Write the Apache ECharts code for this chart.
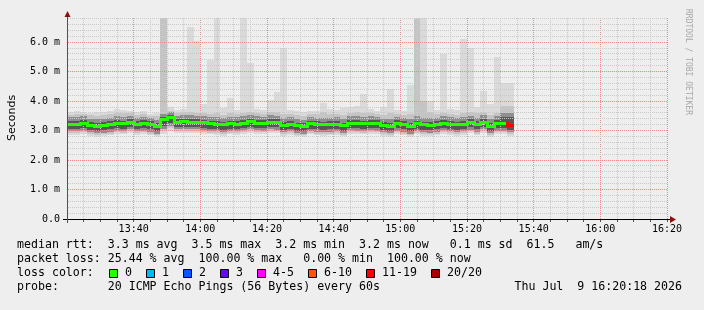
<!DOCTYPE html>
<html>
<head>
<meta charset="utf-8">
<title>smokeping</title>
<script src="https://cdn.jsdelivr.net/npm/echarts@6/dist/echarts.min.js"></script>
<style>
html, body { margin: 0; padding: 0; background: #eeeeee; }
#chart { width: 704px; height: 310px; }
</style>
</head>
<body>
<div id="chart"></div>
<script>
// x axis in minutes since midnight, one smoke column every 2 minutes
var startMinute = 800;   // 13:20
var endMinute = 980;     // 16:20
var stepMinute = 2;
var yMax = 6.82;

// values in ms, one per column
var median = [3.24,3.24,3.26,3.20,3.17,3.19,3.22,3.26,3.25,3.30,
              3.23,3.26,3.22,3.16,3.38,3.46,3.30,3.31,3.30,3.30,
              3.28,3.25,3.24,3.21,3.25,3.24,3.27,3.31,3.27,3.26,
              3.30,3.29,3.20,3.24,3.18,3.16,3.25,3.22,3.21,3.22,
              3.24,3.18,3.27,3.26,3.25,3.27,3.26,3.20,3.17,3.26,
              3.22,3.16,3.25,3.21,3.19,3.22,3.27,3.23,3.21,3.24,
              3.29,3.22,3.30,3.17,3.26,3.26,3.20];
var pingMax = [3.62,3.66,3.64,3.60,3.63,3.62,3.68,3.73,3.70,3.66,
               3.63,3.66,3.55,3.58,6.90,3.80,3.70,3.72,6.50,6.05,
               3.90,5.40,6.90,3.75,4.10,3.70,6.90,5.30,3.72,3.70,
               4.05,4.30,5.80,3.70,3.66,3.62,3.66,3.68,3.93,3.72,
               3.70,3.75,3.80,3.83,4.25,3.72,3.68,3.80,4.40,3.70,
               3.68,4.55,6.90,6.90,4.00,3.70,5.60,3.72,3.70,6.10,
               5.80,3.80,4.35,3.90,5.50,4.60,4.60];
var pingHi2 = [3.54,3.57,3.56,3.52,3.50,3.53,3.56,3.60,3.58,3.58,
               3.54,3.57,3.50,3.48,6.90,3.68,3.60,3.62,3.62,3.60,
               3.58,3.56,3.58,3.54,3.60,3.56,3.60,3.62,3.58,3.57,
               3.62,3.64,3.56,3.56,3.52,3.50,3.56,3.55,3.62,3.55,
               3.56,3.54,3.60,3.62,3.60,3.58,3.56,3.54,3.60,3.57,
               3.54,3.56,6.80,4.00,3.64,3.56,3.60,3.56,3.54,3.58,
               3.62,3.58,3.62,3.52,3.60,3.85,3.85];
var pingHi1 = [3.45,3.46,3.48,3.41,3.38,3.40,3.44,3.48,3.46,3.51,
               3.44,3.47,3.43,3.37,3.56,3.62,3.51,3.53,3.52,3.51,
               3.49,3.46,3.46,3.42,3.47,3.45,3.49,3.53,3.48,3.47,
               3.52,3.51,3.42,3.45,3.39,3.37,3.46,3.44,3.43,3.43,
               3.45,3.39,3.49,3.48,3.47,3.49,3.47,3.41,3.39,3.47,
               3.44,3.38,3.49,3.44,3.42,3.44,3.49,3.45,3.42,3.46,
               3.51,3.44,3.52,3.39,3.48,3.60,3.60];
var coreHi = [3.33,3.33,3.35,3.29,3.26,3.28,3.31,3.35,3.34,3.39,
              3.32,3.35,3.31,3.25,3.47,3.54,3.39,3.40,3.39,3.39,
              3.37,3.34,3.33,3.30,3.34,3.33,3.36,3.40,3.36,3.35,
              3.39,3.38,3.29,3.33,3.27,3.25,3.34,3.31,3.30,3.31,
              3.33,3.27,3.36,3.35,3.34,3.36,3.35,3.29,3.26,3.35,
              3.31,3.25,3.34,3.30,3.28,3.31,3.36,3.32,3.30,3.33,
              3.38,3.31,3.39,3.26,3.35,3.45,3.45];
var coreLo = [3.06,3.06,3.08,3.02,2.99,3.01,3.04,3.08,3.07,3.12,
              3.05,3.08,3.04,2.98,3.16,3.26,3.12,3.13,3.12,3.12,
              3.10,3.07,3.06,3.03,3.07,3.06,3.09,3.13,3.09,3.08,
              3.12,3.11,3.02,3.06,3.00,2.98,3.07,3.04,3.03,3.04,
              3.06,3.00,3.09,3.08,3.07,3.09,3.08,3.02,2.99,3.08,
              3.04,2.98,3.07,3.03,3.01,3.04,3.09,3.05,3.03,3.06,
              3.11,3.04,3.12,2.99,3.08,3.08,3.02];
var pingLo1 = [2.98,2.98,3.00,2.94,2.91,2.93,2.96,3.00,2.99,3.04,
               2.97,3.00,2.96,2.90,3.05,3.17,3.04,3.05,3.04,3.04,
               3.02,2.99,2.98,2.95,2.99,2.98,3.01,3.05,3.01,3.00,
               3.04,3.03,2.94,2.98,2.92,2.90,2.99,2.96,2.95,2.96,
               2.98,2.92,3.01,3.00,2.99,3.01,3.00,2.94,2.91,3.00,
               2.96,2.90,2.99,2.95,2.93,2.96,3.01,2.97,2.95,2.98,
               3.03,2.96,3.04,2.91,3.00,3.00,2.94];
var pingLo2 = [2.92,2.92,2.94,2.88,2.85,2.87,2.90,2.94,2.93,2.98,
               2.91,2.94,2.90,2.84,2.97,3.09,2.98,2.99,2.98,2.98,
               2.96,2.93,2.92,2.89,2.93,2.92,2.95,2.99,2.95,2.94,
               2.98,2.97,2.88,2.92,2.86,2.84,2.93,2.90,2.89,2.90,
               2.92,2.86,2.95,2.94,2.93,2.95,2.94,2.88,2.85,2.94,
               2.90,2.84,2.93,2.89,2.87,2.90,2.95,2.91,2.89,2.92,
               2.97,2.90,2.98,2.85,2.94,2.94,2.88];
var pingMin = [2.86,2.86,2.88,2.82,2.79,2.81,2.84,2.88,2.87,2.92,
               2.85,2.88,2.84,2.78,2.88,3.00,2.92,2.93,2.92,2.92,
               2.90,2.87,2.86,2.83,2.87,2.86,2.89,2.93,2.89,2.88,
               2.92,2.91,2.82,2.86,2.80,2.78,2.87,2.84,2.83,2.84,
               2.86,2.80,2.89,2.88,2.87,2.89,2.88,2.82,2.79,2.88,
               2.84,2.78,2.87,2.83,2.81,2.84,2.89,2.85,2.83,2.86,
               2.91,2.84,2.92,2.79,2.88,2.88,2.82];
// lost pings (of 20) per column
var lossCount = [0,0,0,0,0,0,0,0,0,0, 0,0,0,0,0,0,0,0,0,0,
                 0,0,0,0,0,0,0,0,0,0, 0,0,0,0,0,0,0,0,0,0,
                 0,0,0,0,0,0,0,0,0,0, 0,0,0,0,0,0,0,0,0,0,
                 0,0,0,0,0,0,12];

var lossLabels = ['0', '1', '2', '3', '4-5', '6-10', '11-19', '20/20'];
var lossLimits = [0, 1, 2, 3, 5, 10, 19, 20];
var lossColors = ['#26ff00', '#00b8ff', '#0059ff', '#6a00ff', '#ff00ff', '#ff5500', '#ff0000', '#a10000'];

var rttNames = ['avg', 'max', 'min', 'now'];
var rttValues = [3.3, 3.5, 3.2, 3.2];
var rttSd = 0.1;
var rttAmS = 61.5;
var lossNames = ['avg', 'max', 'min', 'now'];
var lossValues = [25.44, 100.00, 0.00, 100.00];
var probeText = '20 ICMP Echo Pings (56 Bytes) every 60s';
var dateText = 'Thu Jul  9 16:20:18 2026';

var MONO = '"DejaVu Sans Mono", monospace';
var MAJOR_GRID = '#ec8c8c';
var MINOR_GRID = '#c9c9c9';

function lossColor(n) {
    for (var k = 0; k < lossLimits.length; k++) {
        if (n <= lossLimits[k]) return lossColors[k];
    }
    return lossColors[lossColors.length - 1];
}

function minuteLabel(v) {
    var h = Math.floor(v / 60), m = v % 60;
    return h + ':' + (m < 10 ? '0' + m : m);
}

var smokeData = [], medianData = [];
for (var i = 0; i < median.length; i++) {
    var t = startMinute + i * stepMinute;
    smokeData.push([t, pingMin[i], pingLo2[i], pingLo1[i], coreLo[i], coreHi[i], pingHi1[i], pingHi2[i], pingMax[i]]);
    medianData.push([t, median[i], i > 0 ? median[i - 1] : median[i], lossCount[i]]);
}

// grid lines (rrdtool draws them over the smoke): [x, y, vertical, major]
var gridData = [];
for (var m = startMinute + 5; m <= endMinute; m += 5) {
    gridData.push([m, 0, 1, (m - startMinute) % 20 === 0 ? 1 : 0]);
}
for (var k = 1; k <= 34; k++) {
    gridData.push([startMinute, k / 5, 0, k % 5 === 0 ? 1 : 0]);
}

// smoke: 4 shades, outer pings lightest
var smokeLayers = [[1, 8, '#dadada'], [2, 7, '#c4c4c4'], [3, 6, '#8e8e8e'], [4, 5, '#575757']];
function smokeItem(params, api) {
    var x0 = api.value(0);
    var children = smokeLayers.map(function(l) {
        var a = api.coord([x0, api.value(l[1])]);
        var b = api.coord([x0 + stepMinute, api.value(l[0])]);
        var left = Math.round(a[0]), right = Math.round(b[0]);
        var top = Math.round(a[1]), bottom = Math.round(b[1]);
        return { type: 'rect', shape: { x: left, y: top, width: right - left, height: bottom - top }, style: { fill: l[2] } };
    });
    return { type: 'group', children: children };
}

function gridItem(params, api) {
    var vertical = api.value(2) === 1;
    var color = api.value(3) === 1 ? MAJOR_GRID : MINOR_GRID;
    var shape;
    if (vertical) {
        var p0 = api.coord([api.value(0), 0]);
        var p1 = api.coord([api.value(0), yMax]);
        var x = Math.floor(p0[0]) + 0.5;
        shape = { x1: x, y1: Math.round(p1[1]), x2: x, y2: Math.round(p0[1]) };
    } else {
        var q0 = api.coord([startMinute, api.value(1)]);
        var q1 = api.coord([endMinute, api.value(1)]);
        var y = Math.floor(q0[1]) + 0.5;
        shape = { x1: Math.round(q0[0]) + 1, y1: y, x2: Math.round(q1[0]) + 1, y2: y };
    }
    return { type: 'line', shape: shape, style: { stroke: color, lineWidth: 1, lineDash: [1, 1] } };
}

function medianItem(params, api) {
    var x0 = api.value(0);
    var a = api.coord([x0, api.value(1)]);
    var b = api.coord([x0 + stepMinute, api.value(1)]);
    var c = api.coord([x0, api.value(2)]);
    var color = lossColor(api.value(3));
    var left = Math.round(a[0]), right = Math.round(b[0]);
    var y = Math.round(a[1]), py = Math.round(c[1]);
    var children = [{ type: 'rect', shape: { x: left, y: y - 1, width: right - left, height: 3 }, style: { fill: color } }];
    if (params.dataIndex > 0 && py !== y) {
        children.push({ type: 'rect', shape: { x: left - 1, y: Math.min(py, y) - 1, width: 3, height: Math.abs(py - y) + 3 }, style: { fill: color } });
    }
    return { type: 'group', children: children };
}

// legend lines
var row1 = 'median rtt:  ' + rttValues.map(function(v, k) { return v.toFixed(1) + ' ms ' + rttNames[k]; }).join('  ')
    + '  ' + rttSd.toFixed(1).padStart(4) + ' ms sd  ' + rttAmS.toFixed(1) + '   am/s';
var row2 = 'packet loss: ' + lossValues.map(function(v, k) { return v.toFixed(2).padStart(5) + ' % ' + lossNames[k]; }).join('  ');
var row4 = 'probe:       ' + probeText;

var textFont = '11.6px ' + MONO;
var graphics = [
    { type: 'text', x: 17, y: 245, style: { text: row1, font: textFont, fill: '#000', verticalAlign: 'middle' } },
    { type: 'text', x: 17, y: 259, style: { text: row2, font: textFont, fill: '#000', verticalAlign: 'middle' } },
    { type: 'text', x: 17, y: 273, style: { text: 'loss color:', font: textFont, fill: '#000', verticalAlign: 'middle' } },
    { type: 'text', x: 17, y: 287, style: { text: row4, font: textFont, fill: '#000', verticalAlign: 'middle' } },
    { type: 'text', x: 682, y: 287, style: { text: dateText, font: textFont, fill: '#000', align: 'right', verticalAlign: 'middle' } },
    // y title and watermark
    { type: 'text', x: 12, y: 118, rotation: Math.PI / 2, style: { text: 'Seconds', font: '11px "DejaVu Sans"', fill: '#000', align: 'center', verticalAlign: 'middle' } },
    { type: 'text', x: 688, y: 9, rotation: -Math.PI / 2, style: { text: 'RRDTOOL / TOBI OETIKER', font: '8px ' + MONO, fill: '#a8a8a8', align: 'left', verticalAlign: 'middle' } },
    // axis lines with rrdtool overhang and arrows
    { type: 'line', z: 50, shape: { x1: 63, y1: 219.5, x2: 671, y2: 219.5 }, style: { stroke: '#000', lineWidth: 1 } },
    { type: 'line', z: 50, shape: { x1: 67.5, y1: 223, x2: 67.5, y2: 15 }, style: { stroke: '#505050', lineWidth: 1 } },
    { type: 'polygon', z: 51, shape: { points: [[670, 216], [676, 219.5], [670, 223]] }, style: { fill: '#8b1010' } },
    { type: 'polygon', z: 51, shape: { points: [[64.5, 17], [67.5, 11], [70.5, 17]] }, style: { fill: '#8b1010' } }
];
var bx = 109;
lossLabels.forEach(function(lab, k) {
    graphics.push({ type: 'rect', shape: { x: bx + 0.5, y: 269.5, width: 8, height: 8 }, style: { fill: lossColors[k], stroke: '#000', lineWidth: 1 } });
    graphics.push({ type: 'text', x: bx + 16, y: 273, style: { text: lab, font: textFont, fill: '#000', verticalAlign: 'middle' } });
    bx = bx + 16 + lab.length * 7 + 14;
});

var myChart = echarts.init(document.getElementById('chart'));
var option = {
    backgroundColor: '#eeeeee',
    animation: false,
    grid: { left: 67, right: 37, top: 18, bottom: 91, containLabel: false, outerBoundsMode: 'none' },
    xAxis: {
        type: 'value', min: startMinute, max: endMinute, interval: 20,
        axisLine: { show: false },
        axisTick: { show: true, interval: 0, length: 3, lineStyle: { color: '#505050' } },
        minorTick: { show: true, splitNumber: 4, length: 3, lineStyle: { color: '#505050' } },
        axisLabel: { showMinLabel: false, interval: 0, margin: 5, color: '#000', fontFamily: MONO, fontSize: 10, formatter: minuteLabel },
        splitLine: { show: false }
    },
    yAxis: {
        type: 'value', min: 0, max: yMax, interval: 1,
        axisLine: { show: false }, axisTick: { show: false },
        axisLabel: {
            margin: 7, interval: 0, color: '#000', fontFamily: MONO, fontSize: 10, showMaxLabel: false,
            formatter: function(v) { return v === 0 ? '0.0' : v.toFixed(1) + ' m'; }
        },
        splitLine: { show: false }
    },
    series: [{
        type: 'custom', name: 'smoke', z: 2, clip: true,
        renderItem: smokeItem, encode: { x: 0, y: [1, 8] }, data: smokeData
    }, {
        type: 'custom', name: 'grid', z: 4, clip: false, silent: true,
        renderItem: gridItem, encode: { x: 0, y: 1 }, data: gridData
    }, {
        type: 'custom', name: 'median', z: 6, clip: true,
        renderItem: medianItem, encode: { x: 0, y: 1 }, data: medianData
    }],
    graphic: graphics
};
myChart.setOption(option);
window.addEventListener('resize', function() { myChart.resize(); });
</script>
</body>
</html>
